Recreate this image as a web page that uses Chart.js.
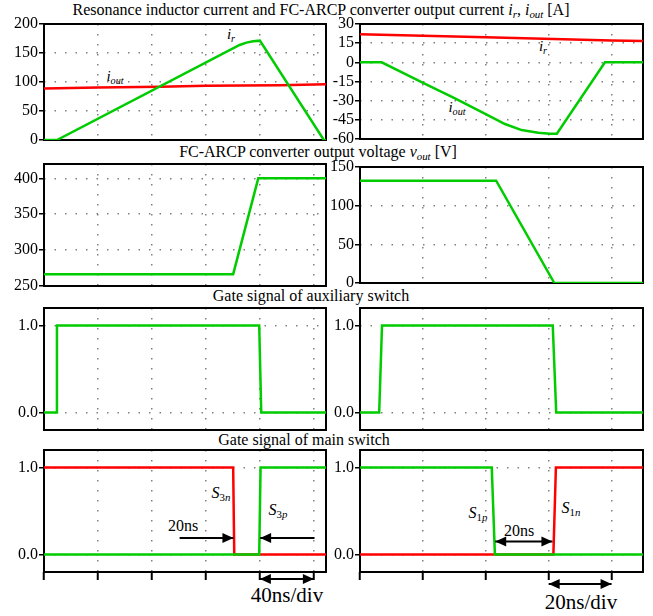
<!DOCTYPE html>
<html>
<head>
<meta charset="utf-8">
<script src="https://cdn.jsdelivr.net/npm/chart.js@4.4.1/dist/chart.umd.min.js"></script>
<style>
  body { margin: 0; background: #fff; }
  #page { position: relative; width: 653px; height: 616px; overflow: hidden; font-family: "Liberation Serif", "DejaVu Serif", serif; color: #000; }
  canvas { position: absolute; }
  .lbl { position: absolute; transform: translate(-50%, -50%); white-space: nowrap; line-height: 1; }
  .lbl sub { font-size: 0.68em; vertical-align: baseline; position: relative; top: 0.3em; }
  .title { font-size: 16px; }
  .it { font-style: italic; }
</style>
</head>
<body>
<div id="page">
  <div class="lbl title" style="left:321px; top:10px">Resonance inductor current and FC-ARCP converter output current <i>i</i><sub class="it">r</sub>, <i>i</i><sub class="it">out</sub> [A]</div>
  <div class="lbl title" style="left:318px; top:152px">FC-ARCP converter output voltage <i>v</i><sub class="it">out</sub> [V]</div>
  <div class="lbl title" style="left:311px; top:296px">Gate signal of auxiliary switch</div>
  <div class="lbl title" style="left:304px; top:440px">Gate signal of main switch</div>

  <div class="lbl" style="left:231px; top:34px; font-size:15px"><i>i</i><sub class="it">r</sub></div>
  <div class="lbl" style="left:115px; top:76px; font-size:15px"><i>i</i><sub class="it">out</sub></div>
  <div class="lbl" style="left:543px; top:46px; font-size:15px"><i>i</i><sub class="it">r</sub></div>
  <div class="lbl" style="left:457px; top:107px; font-size:15px"><i>i</i><sub class="it">out</sub></div>

  <div class="lbl" style="left:221px; top:493px; font-size:16px"><i>S</i><sub>3<i>n</i></sub></div>
  <div class="lbl" style="left:278px; top:510px; font-size:16px"><i>S</i><sub>3<i>p</i></sub></div>
  <div class="lbl" style="left:183px; top:526px; font-size:16px">20ns</div>
  <div class="lbl" style="left:478px; top:513px; font-size:16px"><i>S</i><sub>1<i>p</i></sub></div>
  <div class="lbl" style="left:571px; top:508px; font-size:16px"><i>S</i><sub>1<i>n</i></sub></div>
  <div class="lbl" style="left:519px; top:531px; font-size:16px">20ns</div>
  <div class="lbl" style="left:287px; top:595px; font-size:21px">40ns/div</div>
  <div class="lbl" style="left:581px; top:602px; font-size:21px">20ns/div</div>
</div>
<script>
// time axes [ns]
const slowTicks = [0, 40, 80, 120, 160, 200];   // left column, 40 ns/div
const fastTicks = [0, 20, 40, 60, 80];          // right column, 20 ns/div
const slowEnd = 209;
const fastEnd = 90;

// currents [A]
const curSlowTicks = [0, 50, 100, 150, 200];
const irSlowT = [0, 9.6, 145, 150, 155, 160, 207.4, 209];
const irSlowV = [0, 0, 163.8, 167.9, 170.2, 171.3, 0, 0];
const ioutSlowT = [0, 40, 86, 120, 175, 209];
const ioutSlowV = [89, 90.5, 92, 93.5, 94.5, 96];

const curFastTicks = [-60, -45, -30, -15, 0, 15, 30];
const irFastT = [0, 40, 80, 90];
const irFastV = [22, 19.6, 17, 16.7];
const ioutFastT = [0, 6.9, 20.7, 30.2, 40.6, 46.1, 51.4, 56.7, 60.4, 62.6, 77.9, 90];
const ioutFastV = [0, 0, -16.8, -28.2, -41.4, -48.3, -53, -55.1, -55.8, -55.8, 0, 0];

// output voltage [V]
const voltSlowTicks = [250, 300, 350, 400];
const voutSlowT = [0, 140.2, 158.8, 209];
const voutSlowV = [266.5, 266.5, 400, 400];
const voltFastTicks = [0, 50, 100, 150];
const voutFastT = [0, 43.3, 61.8, 90];
const voutFastV = [132.3, 132.3, 0, 0];

// gate signals
const gateTicks = [0, 1];
const auxSlowT = [0, 8.9, 9.6, 159.5, 161, 209];
const auxSlowV = [0, 0, 1, 1, 0, 0];
const auxFastT = [0, 6.1, 7.0, 61.3, 62.4, 90];
const auxFastV = [0, 0, 1, 1, 0, 0];
const s3nT = [0, 140.2, 141, 209];
const s3nV = [1, 1, 0, 0];
const s3pT = [0, 159.5, 160.5, 209];
const s3pV = [0, 0, 1, 1];
const s1pT = [0, 41.9, 42.9, 90];
const s1pV = [1, 1, 0, 0];
const s1nT = [0, 61.5, 62.3, 90];
const s1nV = [0, 0, 1, 1];

const GREEN = '#00cc00';
const RED = '#ff0000';
const GRID = '#808080';
const FONT = "'Liberation Serif', 'DejaVu Serif', serif";

Chart.defaults.font.family = FONT;

const zip = (t, v) => t.map((x, i) => ({ x: x, y: v[i] }));

function head(ctx, x, y, dir) {
    ctx.beginPath();
    ctx.moveTo(x, y);
    ctx.lineTo(x - dir * 11, y - 5);
    ctx.lineTo(x - dir * 11, y + 5);
    ctx.closePath();
    ctx.fill();
}

// one oscilloscope-like panel
function makePanel(p) {
    const padT = 12, padR = 4;
    const padB = p.bottom ? 26 : 12;
    const canvas = document.createElement('canvas');
    canvas.width = p.axW + p.w + padR;
    canvas.height = padT + p.h + padB;
    canvas.style.left = (p.l - p.axW) + 'px';
    canvas.style.top = (p.t - padT) + 'px';
    document.getElementById('page').appendChild(canvas);

    const frame = {
        id: 'frame',
        beforeDatasetsDraw(chart) {
            const a = chart.chartArea, ctx = chart.ctx;
            ctx.save();
            ctx.lineWidth = 2;
            ctx.strokeStyle = '#000';
            ctx.strokeRect(a.left, a.top, a.right - a.left, a.bottom - a.top);
            ctx.restore();
        }
    };
    const arrows = {
        id: 'arrows',
        afterDraw(chart) {
            const xs = chart.scales.x, ys = chart.scales.y, ctx = chart.ctx;
            (p.arrows || []).forEach(a => {
                const x1 = xs.getPixelForValue(a.from), x2 = xs.getPixelForValue(a.to);
                const y = a.y !== undefined ? ys.getPixelForValue(a.y) : chart.chartArea.bottom + a.below;
                ctx.save();
                ctx.strokeStyle = '#000';
                ctx.fillStyle = '#000';
                ctx.lineWidth = 2;
                ctx.beginPath();
                ctx.moveTo(x1, y);
                ctx.lineTo(x2, y);
                ctx.stroke();
                head(ctx, x2, y, Math.sign(x2 - x1));
                if (a.both) head(ctx, x1, y, Math.sign(x1 - x2));
                ctx.restore();
            });
        }
    };

    new Chart(canvas, {
        type: 'line',
        data: {
            datasets: p.series.map(s => ({
                data: zip(s.t, s.v),
                borderColor: s.color,
                borderWidth: 2.5,
                pointRadius: 0,
                tension: 0,
                fill: false
            }))
        },
        options: {
            responsive: false,
            animation: false,
            events: [],
            layout: { padding: { top: padT, right: padR, bottom: padB, left: 0 } },
            plugins: { legend: { display: false }, tooltip: { enabled: false } },
            scales: {
                x: {
                    type: 'linear',
                    min: 0,
                    max: p.xMax,
                    afterBuildTicks: s => { s.ticks = p.xTicks.map(v => ({ value: v })); },
                    afterFit: s => { s.height = 0; },
                    ticks: { display: false },
                    grid: {
                        color: c => (c.tick && c.tick.value === 0) ? 'rgba(0,0,0,0)' : GRID,
                        lineWidth: 1.5,
                        drawTicks: !!p.bottom,
                        tickLength: 8,
                        tickColor: '#000',
                        tickWidth: 2
                    },
                    border: { display: false, dash: [1.5, 8.5] }
                },
                y: {
                    min: p.yMin,
                    max: p.yMax,
                    afterBuildTicks: s => { s.ticks = p.yTicks.map(v => ({ value: v })); },
                    afterFit: s => { s.width = p.axW; },
                    ticks: {
                        autoSkip: false,
                        padding: 1,
                        color: '#000',
                        font: { family: FONT, size: 16 },
                        callback: v => p.fmt ? p.fmt(v) : String(v)
                    },
                    grid: {
                        color: c => (c.tick && (c.tick.value === p.yMin || c.tick.value === p.yMax)) ? 'rgba(0,0,0,0)' : GRID,
                        lineWidth: 1.5,
                        drawTicks: true,
                        tickLength: 5,
                        tickColor: '#000',
                        tickWidth: 1.5
                    },
                    border: { display: false, dash: [1.5, 9] }
                }
            }
        },
        plugins: [frame, arrows]
    });
}

const gateFmt = v => v.toFixed(1);

function init() {
    // row 1: currents
    makePanel({ l: 44, t: 24, w: 282, h: 116, axW: 44, xMax: slowEnd, xTicks: slowTicks,
        yMin: 0, yMax: 200, yTicks: curSlowTicks,
        series: [{ t: irSlowT, v: irSlowV, color: GREEN }, { t: ioutSlowT, v: ioutSlowV, color: RED }] });
    makePanel({ l: 360, t: 24, w: 283, h: 115, axW: 40, xMax: fastEnd, xTicks: fastTicks,
        yMin: -60, yMax: 30, yTicks: curFastTicks,
        series: [{ t: ioutFastT, v: ioutFastV, color: GREEN }, { t: irFastT, v: irFastV, color: RED }] });

    // row 2: output voltage
    makePanel({ l: 44, t: 164, w: 282, h: 122, axW: 44, xMax: slowEnd, xTicks: slowTicks,
        yMin: 250, yMax: 420, yTicks: voltSlowTicks,
        series: [{ t: voutSlowT, v: voutSlowV, color: GREEN }] });
    makePanel({ l: 360, t: 167, w: 283, h: 116, axW: 40, xMax: fastEnd, xTicks: fastTicks,
        yMin: 0, yMax: 150, yTicks: voltFastTicks,
        series: [{ t: voutFastT, v: voutFastV, color: GREEN }] });

    // row 3: auxiliary switch gate
    makePanel({ l: 44, t: 308, w: 282, h: 122, axW: 44, xMax: slowEnd, xTicks: slowTicks,
        yMin: -0.2, yMax: 1.2, yTicks: gateTicks, fmt: gateFmt,
        series: [{ t: auxSlowT, v: auxSlowV, color: GREEN }] });
    makePanel({ l: 360, t: 308, w: 283, h: 122, axW: 40, xMax: fastEnd, xTicks: fastTicks,
        yMin: -0.2, yMax: 1.2, yTicks: gateTicks, fmt: gateFmt,
        series: [{ t: auxFastT, v: auxFastV, color: GREEN }] });

    // row 4: main switch gates
    makePanel({ l: 44, t: 450, w: 282, h: 122, axW: 44, xMax: slowEnd, xTicks: slowTicks, bottom: true,
        yMin: -0.2, yMax: 1.2, yTicks: gateTicks, fmt: gateFmt,
        series: [{ t: s3pT, v: s3pV, color: GREEN }, { t: s3nT, v: s3nV, color: RED }],
        arrows: [{ from: 100.5, to: 140.4, y: 0.19 }, { from: 200.5, to: 160.2, y: 0.19 },
                 { from: 160, to: 200, below: 7, both: true }] });
    makePanel({ l: 360, t: 450, w: 283, h: 122, axW: 40, xMax: fastEnd, xTicks: fastTicks, bottom: true,
        yMin: -0.2, yMax: 1.2, yTicks: gateTicks, fmt: gateFmt,
        series: [{ t: s1pT, v: s1pV, color: GREEN }, { t: s1nT, v: s1nV, color: RED }],
        arrows: [{ from: 43, to: 61.2, y: 0.15, both: true },
                 { from: 60, to: 80, below: 12, both: true }] });
}

// system fonts still have to be loaded before the canvases use them
document.fonts.load("16px 'Liberation Serif'").then(init, init);
</script>
</body>
</html>
